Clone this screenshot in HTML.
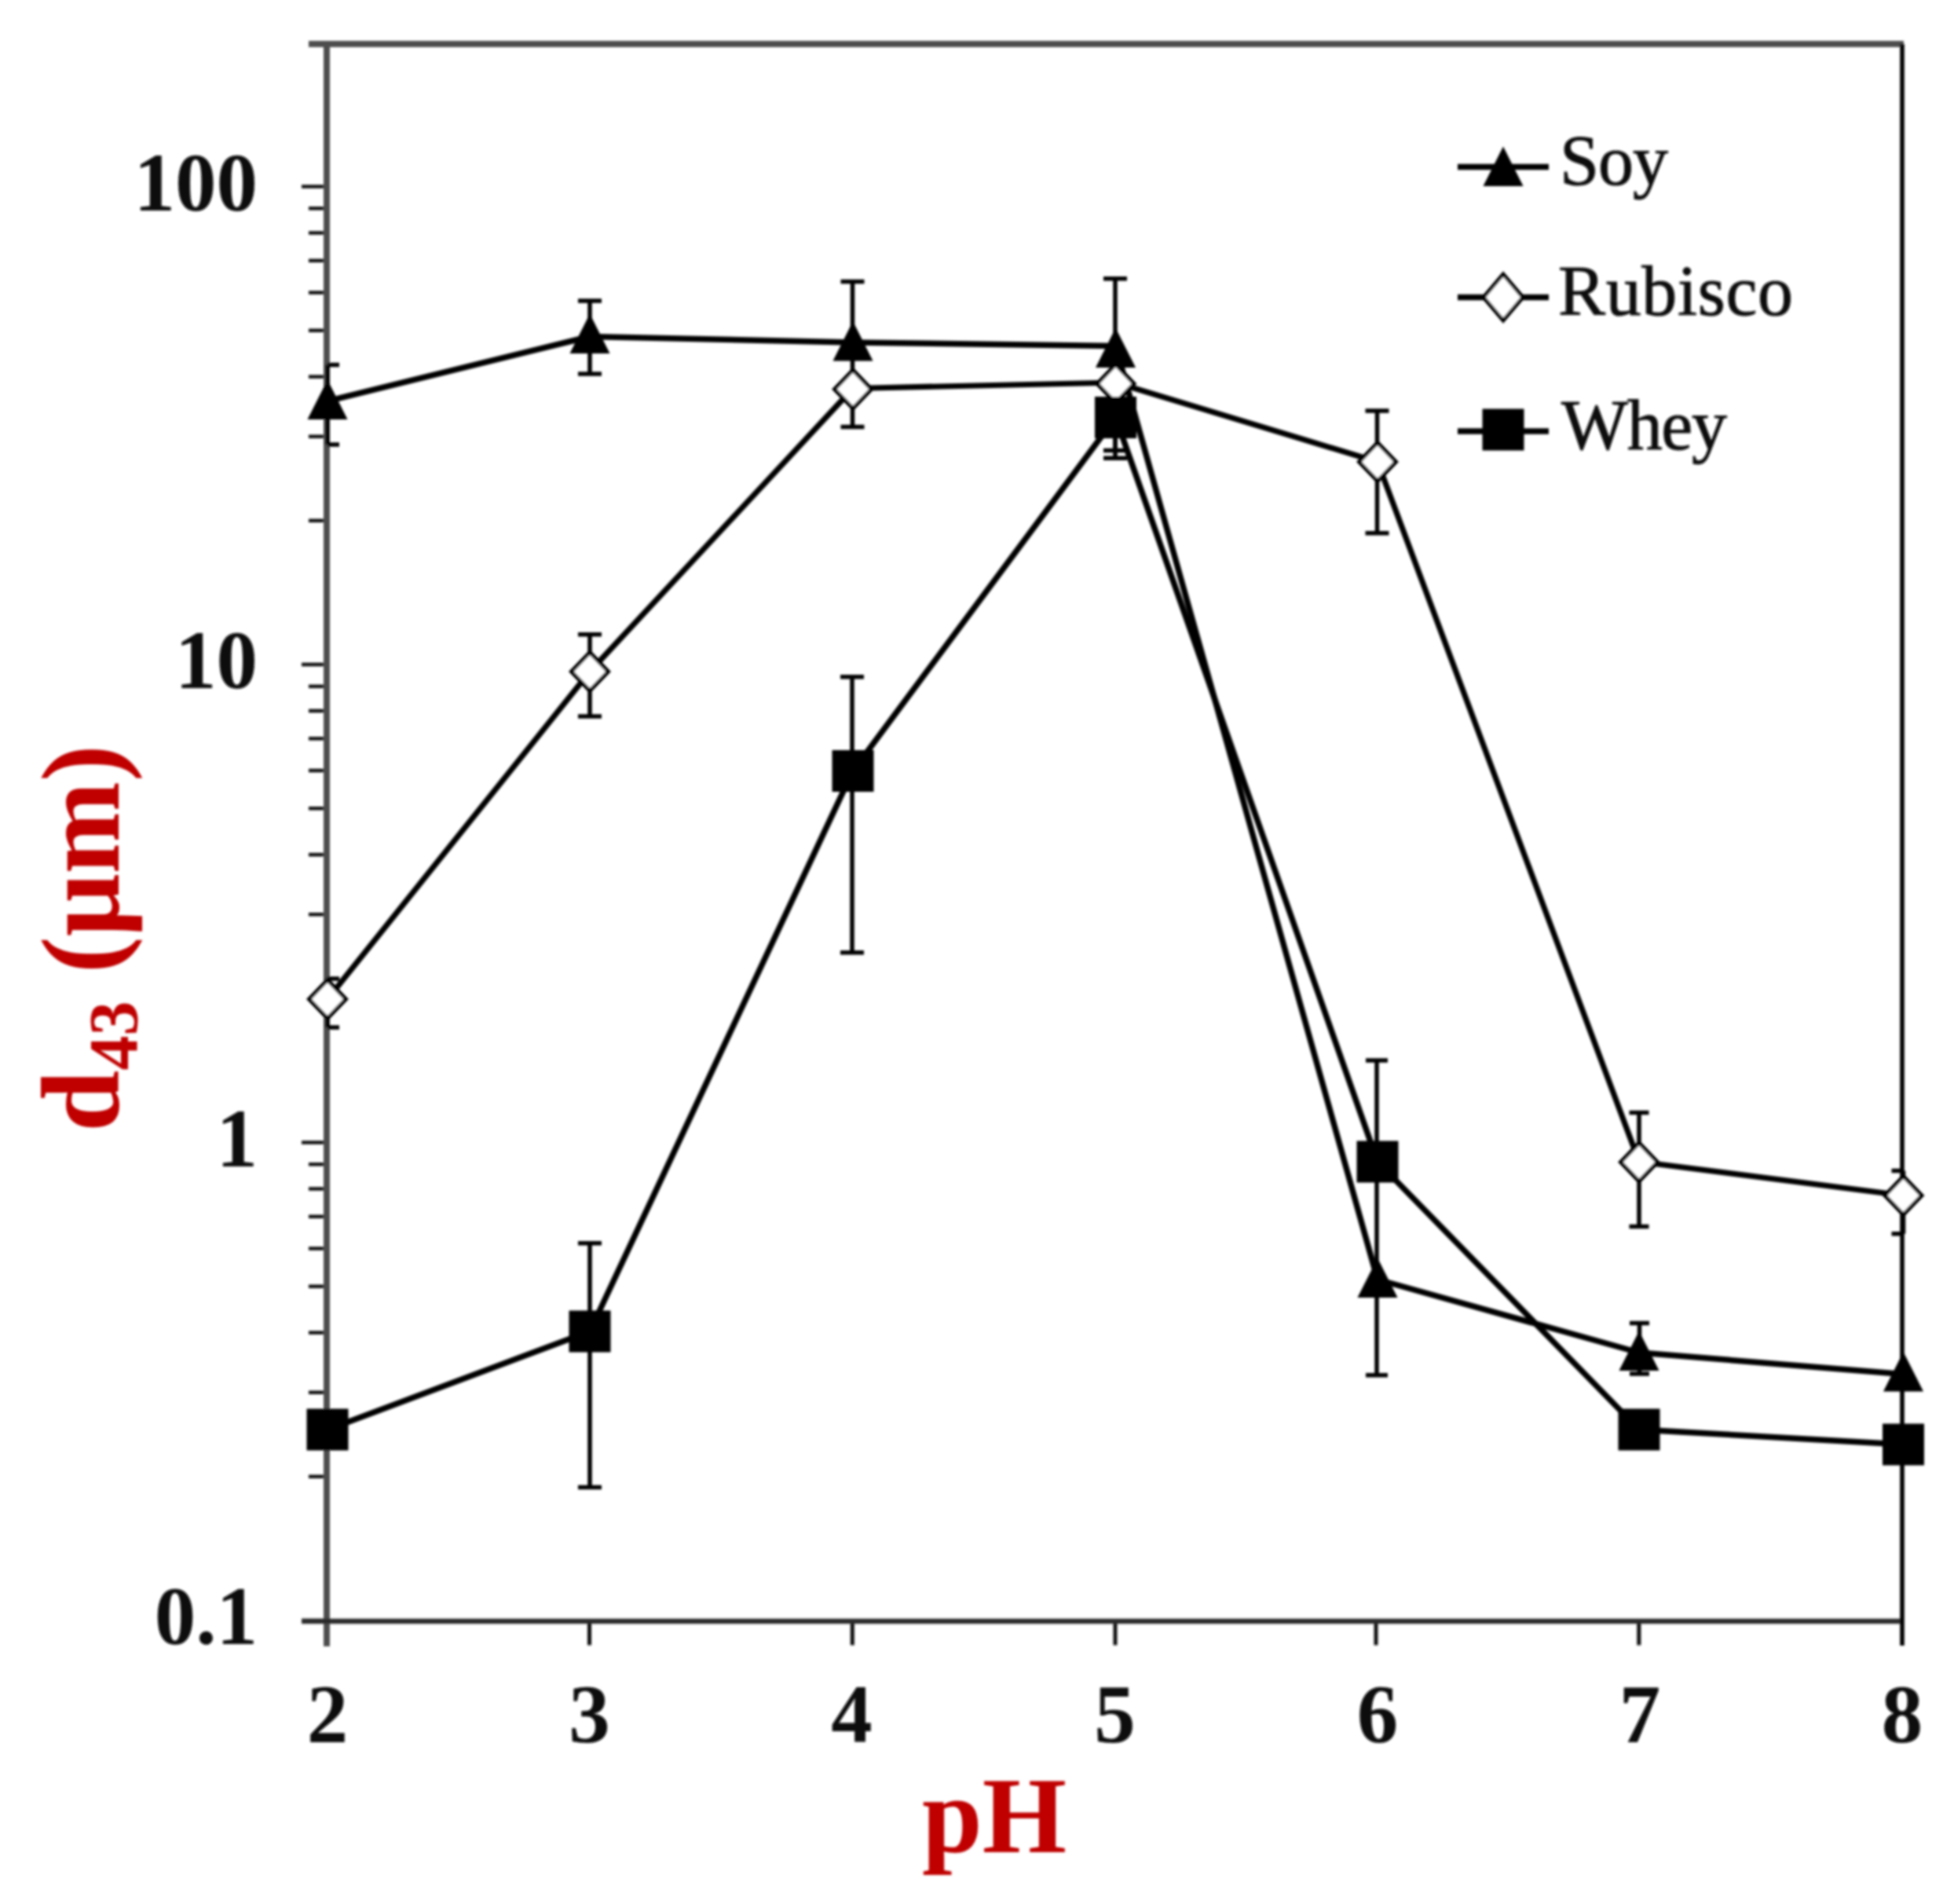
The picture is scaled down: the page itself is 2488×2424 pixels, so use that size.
<!DOCTYPE html>
<html lang="en"><head><meta charset="utf-8"><title>d43 vs pH</title>
<style>html,body{margin:0;padding:0;background:#fff}body{width:2488px;height:2424px}svg{display:block}text{font-family:"Liberation Serif",serif}</style>
</head><body>
<svg width="2488" height="2424" viewBox="0 0 2488 2424">
<defs><filter id="soft" x="-2%" y="-2%" width="104%" height="104%"><feGaussianBlur stdDeviation="1.5"/></filter></defs>
<rect width="2488" height="2424" fill="#fff"/>
<g filter="url(#soft)">
<g stroke="#111" stroke-width="4.5">
<line x1="384" y1="237.5" x2="416" y2="237.5"/>
<line x1="384" y1="846.0" x2="416" y2="846.0"/>
<line x1="384" y1="1454.5" x2="416" y2="1454.5"/>
<line x1="384" y1="2063.0" x2="416" y2="2063.0"/>
<line x1="393" y1="662.8" x2="416" y2="662.8"/>
<line x1="393" y1="555.7" x2="416" y2="555.7"/>
<line x1="393" y1="479.6" x2="416" y2="479.6"/>
<line x1="393" y1="420.7" x2="416" y2="420.7"/>
<line x1="393" y1="372.5" x2="416" y2="372.5"/>
<line x1="393" y1="331.8" x2="416" y2="331.8"/>
<line x1="393" y1="296.5" x2="416" y2="296.5"/>
<line x1="393" y1="265.3" x2="416" y2="265.3"/>
<line x1="393" y1="1271.3" x2="416" y2="1271.3"/>
<line x1="393" y1="1164.2" x2="416" y2="1164.2"/>
<line x1="393" y1="1088.1" x2="416" y2="1088.1"/>
<line x1="393" y1="1029.2" x2="416" y2="1029.2"/>
<line x1="393" y1="981.0" x2="416" y2="981.0"/>
<line x1="393" y1="940.3" x2="416" y2="940.3"/>
<line x1="393" y1="905.0" x2="416" y2="905.0"/>
<line x1="393" y1="873.8" x2="416" y2="873.8"/>
<line x1="393" y1="1879.8" x2="416" y2="1879.8"/>
<line x1="393" y1="1772.7" x2="416" y2="1772.7"/>
<line x1="393" y1="1696.6" x2="416" y2="1696.6"/>
<line x1="393" y1="1637.7" x2="416" y2="1637.7"/>
<line x1="393" y1="1589.5" x2="416" y2="1589.5"/>
<line x1="393" y1="1548.8" x2="416" y2="1548.8"/>
<line x1="393" y1="1513.5" x2="416" y2="1513.5"/>
<line x1="393" y1="1482.3" x2="416" y2="1482.3"/>
</g>
<g stroke="#111" stroke-width="5">
<line x1="750.5" y1="2063" x2="750.5" y2="2094.5"/>
<line x1="1085.3" y1="2063" x2="1085.3" y2="2094.5"/>
<line x1="1420.0" y1="2063" x2="1420.0" y2="2094.5"/>
<line x1="1752.0" y1="2063" x2="1752.0" y2="2094.5"/>
<line x1="2086.8" y1="2063" x2="2086.8" y2="2094.5"/>
</g>
<g stroke="#4a4a4a" fill="none">
<line x1="393" y1="56" x2="2424" y2="56" stroke="#4e4e4e" stroke-width="8"/>
<line x1="416" y1="52" x2="416" y2="2096" stroke="#4d4d4d" stroke-width="8"/>
<line x1="384" y1="2064" x2="2424" y2="2064" stroke="#2c2c2c" stroke-width="6.5"/>
</g>
<line x1="2422" y1="56" x2="2422" y2="2095" stroke="#050505" stroke-width="5.6"/>
<g stroke="#000" stroke-width="5.5" fill="none">
<path d="M417.0 464.6V566.0M417.0 464.6H432.0M417.0 566.0H432.0"/>
<path d="M751.0 383.0V476.0M736.0 383.0H766.0M736.0 476.0H766.0"/>
<path d="M1085.5 358.5V543.4M1070.5 358.5H1100.5M1070.5 543.4H1100.5"/>
<path d="M1420.0 354.8V573.5M1405.0 354.8H1435.0M1405.0 573.5H1435.0"/>
<path d="M2087.5 1684.5V1749.0M2075.0 1684.5H2100.0M2075.0 1749.0H2100.0"/>
</g>
<polyline points="417.0,510.5 751.0,428.5 1086.0,436.0 1420.5,440.5 1754.0,1629.0 2087.0,1722.0 2423.5,1749.5" fill="none" stroke="#000" stroke-width="7.5" stroke-linejoin="round"/>
<g stroke="#000" stroke-width="5.5" fill="none">
<path d="M417.0 1246.0V1308.0M417.0 1246.0H432.0M417.0 1308.0H432.0"/>
<path d="M751.0 807.7V912.0M736.0 807.7H766.0M736.0 912.0H766.0"/>
<path d="M1420.0 489.0V583.3M1405.0 489.0H1435.0M1405.0 583.3H1435.0"/>
<path d="M1753.5 523.0V678.7M1738.5 523.0H1768.5M1738.5 678.7H1768.5"/>
<path d="M2087.0 1416.5V1561.6M2074.5 1416.5H2099.5M2074.5 1561.6H2099.5"/>
<path d="M2423.5 1490.5V1570.7M2408.5 1490.5H2423.5M2408.5 1570.7H2423.5"/>
</g>
<polyline points="417.0,1272.0 751.0,855.0 1086.0,494.5 1420.5,487.0 1754.0,588.0 2087.0,1479.0 2423.5,1522.0" fill="none" stroke="#000" stroke-width="7.2" stroke-linejoin="round"/>
<g stroke="#000" stroke-width="5.5" fill="none">
<path d="M751.0 1582.8V1893.5M736.0 1582.8H766.0M736.0 1893.5H766.0"/>
<path d="M1085.0 861.8V1212.8M1070.0 861.8H1100.0M1070.0 1212.8H1100.0"/>
<path d="M1753.0 1350.0V1750.7M1739.0 1350.0H1767.0M1739.0 1750.7H1767.0"/>
</g>
<polyline points="417.0,1820.0 751.0,1695.0 1086.0,981.5 1420.5,531.5 1754.0,1479.0 2087.0,1820.0 2423.5,1839.0" fill="none" stroke="#000" stroke-width="7.5" stroke-linejoin="round"/>
<polygon points="417.0,1247.5 440.5,1272.0 417.0,1296.5 393.5,1272.0" fill="#fff" stroke="#000" stroke-width="5"/>
<polygon points="751.0,830.5 774.5,855.0 751.0,879.5 727.5,855.0" fill="#fff" stroke="#000" stroke-width="5"/>
<polygon points="1086.0,471.0 1109.5,495.5 1086.0,520.0 1062.5,495.5" fill="#fff" stroke="#000" stroke-width="5"/>
<polygon points="1420.5,464.0 1444.0,488.5 1420.5,513.0 1397.0,488.5" fill="#fff" stroke="#000" stroke-width="5"/>
<polygon points="1754.0,563.5 1777.5,588.0 1754.0,612.5 1730.5,588.0" fill="#fff" stroke="#000" stroke-width="5"/>
<polygon points="2087.0,1455.0 2110.5,1479.5 2087.0,1504.0 2063.5,1479.5" fill="#fff" stroke="#000" stroke-width="5"/>
<polygon points="2423.5,1497.5 2447.0,1522.0 2423.5,1546.5 2400.0,1522.0" fill="#fff" stroke="#000" stroke-width="5"/>
<polygon points="417.0,483.5 391.5,534.0 442.5,534.0" fill="#000"/>
<polygon points="751.0,399.5 725.5,450.0 776.5,450.0" fill="#000"/>
<polygon points="1086.0,409.0 1060.5,459.5 1111.5,459.5" fill="#000"/>
<polygon points="1420.5,417.5 1395.0,468.0 1446.0,468.0" fill="#000"/>
<polygon points="1754.0,1601.5 1728.5,1652.0 1779.5,1652.0" fill="#000"/>
<polygon points="2087.0,1694.5 2061.5,1745.0 2112.5,1745.0" fill="#000"/>
<polygon points="2423.5,1721.0 2398.0,1771.5 2449.0,1771.5" fill="#000"/>
<rect x="390.5" y="1793.5" width="53" height="53" fill="#000"/>
<rect x="724.5" y="1668.5" width="53" height="53" fill="#000"/>
<rect x="1059.5" y="955.0" width="53" height="53" fill="#000"/>
<rect x="1394.0" y="505.0" width="53" height="53" fill="#000"/>
<rect x="1727.5" y="1452.5" width="53" height="53" fill="#000"/>
<rect x="2060.5" y="1793.5" width="53" height="53" fill="#000"/>
<rect x="2397.0" y="1812.5" width="53" height="53" fill="#000"/>
<g stroke="#000" stroke-width="7.5" fill="none"><line x1="1856" y1="212.5" x2="1972" y2="212.5"/><line x1="1856" y1="378.5" x2="1972" y2="378.5"/><line x1="1856" y1="549" x2="1972" y2="549"/></g>
<polygon points="1914.0,186.5 1888.5,237.0 1939.5,237.0" fill="#000"/>
<polygon points="1914.0,349.0 1939.0,378.5 1914.0,408.0 1889.0,378.5" fill="#fff" stroke="#000" stroke-width="5"/>
<rect x="1887.5" y="520.5" width="53" height="53" fill="#000"/>
<g font-size="90" fill="#111" stroke="#111" stroke-width="1">
<text x="1986" y="235" textLength="138" lengthAdjust="spacing">Soy</text>
<text x="1984" y="401" textLength="299" lengthAdjust="spacing">Rubisco</text>
<text x="1988" y="572" textLength="211" lengthAdjust="spacing">Whey</text>
</g>
<g font-size="105" font-weight="bold" fill="#0a0a0a" text-anchor="end">
<text x="328" y="267.5">100</text>
<text x="328" y="876.0">10</text>
<text x="328" y="1484.5">1</text>
<text x="328" y="2093.0">0.1</text>
</g>
<g font-size="105" font-weight="bold" fill="#0a0a0a" text-anchor="middle">
<text x="417.0" y="2218">2</text>
<text x="750.5" y="2218">3</text>
<text x="1084.5" y="2218">4</text>
<text x="1419.5" y="2218">5</text>
<text x="1754.0" y="2218">6</text>
<text x="2088.0" y="2218">7</text>
<text x="2422.0" y="2218">8</text>
</g>
<text x="1266" y="2358" font-size="138" font-weight="bold" fill="#c00000" text-anchor="middle">pH</text>
<text transform="translate(151,1441) rotate(-90)" font-size="141" font-weight="bold" fill="#c00000">d<tspan font-size="88" dy="23">43</tspan><tspan dy="-23"> (μm)</tspan></text>
</g>
</svg></body></html>
